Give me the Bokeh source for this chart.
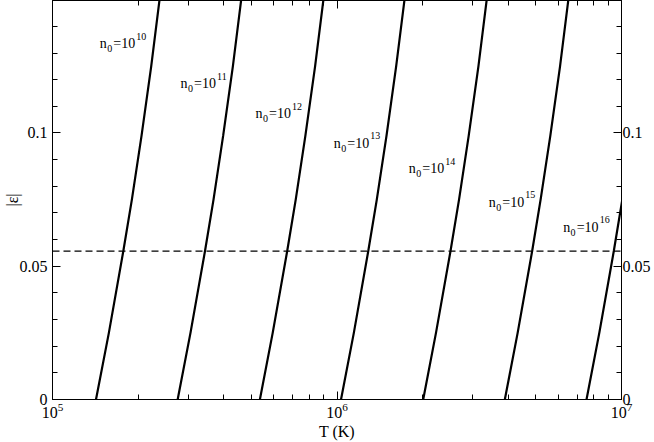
from bokeh.plotting import figure
from bokeh.models import (LogAxis, LinearAxis, FixedTicker, Range1d, Span,
                          ColumnDataSource, NumeralTickFormatter, CustomJSTickFormatter)
from bokeh.core.properties import value
from bokeh.embed import file_html
from bokeh.resources import INLINE

# ---------------- data ----------------
eps_grid = [0.0, 0.025, 0.0557, 0.075, 0.099, 0.125, 0.15]
T_n10 = [1.422e5, 1.578e5, 1.774e5, 1.901e5, 2.056e5, 2.223e5, 2.378e5]
T_n11 = [2.754e5, 3.055e5, 3.436e5, 3.681e5, 3.980e5, 4.305e5, 4.605e5]
T_n12 = [5.358e5, 5.943e5, 6.683e5, 7.160e5, 7.743e5, 8.375e5, 8.959e5]
T_n13 = [1.033e6, 1.146e6, 1.288e6, 1.380e6, 1.493e6, 1.614e6, 1.727e6]
T_n14 = [2.009e6, 2.228e6, 2.506e6, 2.685e6, 2.904e6, 3.141e6, 3.359e6]
T_n15 = [3.890e6, 4.315e6, 4.853e6, 5.196e6, 5.622e6, 6.081e6, 6.504e6]
T_n16 = [7.534e6, 8.356e6, 9.397e6, 1.0065e7, 1.0886e7]
eps_crit = 0.0557

label_exp = ["10", "11", "12", "13", "14", "15", "16"]
label_T = [1.4665e5, 2.8178e5, 5.1703e5, 9.744e5, 1.7877e6, 3.4163e6, 6.238e6]
label_eps = [0.1335, 0.1185, 0.1072, 0.0962, 0.0866, 0.0740, 0.0647]

x_major = [1e5, 1e6, 1e7]
x_minor = [2e5, 3e5, 4e5, 5e5, 6e5, 7e5, 8e5, 9e5,
           2e6, 3e6, 4e6, 5e6, 6e6, 7e6, 8e6, 9e6]
y_major = [0.0, 0.05, 0.1]
y_minor = [0.01, 0.02, 0.03, 0.04, 0.06, 0.07, 0.08, 0.09,
           0.11, 0.12, 0.13, 0.14]

FONT = "Liberation Serif"

p = figure(width=654, height=442, x_axis_type="log",
           x_range=Range1d(1e5, 1e7), y_range=Range1d(0, 0.1497),
           output_backend="svg", toolbar_location=None,
           min_border_left=52, min_border_right=33,
           min_border_top=0, min_border_bottom=43,
           styles={"position": "absolute", "top": "0px", "left": "0px"})
p.xgrid.visible = False
p.ygrid.visible = False
p.outline_line_color = "black"
p.background_fill_color = "white"
p.border_fill_color = "white"

xt = FixedTicker(ticks=x_major, minor_ticks=x_minor)
yt = FixedTicker(ticks=y_major, minor_ticks=y_minor)

top_axis = LogAxis(ticker=xt, formatter=CustomJSTickFormatter(code="return ''"))
p.add_layout(top_axis, "above")
p.add_layout(LinearAxis(ticker=yt), "right")

for ax in p.axis:
    ax.major_tick_in = 8
    ax.major_tick_out = 0
    ax.minor_tick_in = 5
    ax.minor_tick_out = 0
    ax.axis_line_color = "black"
    ax.major_tick_line_color = "black"
    ax.minor_tick_line_color = "black"
    ax.major_label_text_font = FONT
    ax.major_label_text_font_size = "16px"
    ax.major_label_text_color = "black"
    ax.axis_label_text_font = FONT
    ax.axis_label_text_font_size = "16px"
    ax.axis_label_text_font_style = "normal"
    ax.axis_label_text_color = "black"

p.below[0].ticker = xt
p.left[0].ticker = yt
p.left[0].formatter = NumeralTickFormatter(format="0.[00]")
p.right[0].formatter = NumeralTickFormatter(format="0.[00]")
p.left[0].major_label_standoff = 5
p.right[0].major_label_standoff = 1
p.below[0].major_label_standoff = 3

p.below[0].axis_label = "T (K)"
p.below[0].axis_label_standoff = 2
p.left[0].axis_label = "|\u03b5|"
p.left[0].axis_label_standoff = -4
top_axis.major_label_text_font_size = "1px"
top_axis.major_label_standoff = 0

for T in [T_n10, T_n11, T_n12, T_n13, T_n14, T_n15, T_n16]:
    p.line(T, eps_grid[:len(T)], line_color="black", line_width=2.2)

p.add_layout(Span(location=eps_crit, dimension="width", line_color="black",
                  line_width=1.3, line_dash="7 4"))

src = ColumnDataSource(dict(x=label_T, y=label_eps, exp=label_exp))
common = dict(x="x", y="y", source=src, text_font=value(FONT),
              text_color="black", text_baseline="alphabetic", text_align="left")
p.text(text=value("n"), text_font_size="14px", **common)
p.text(text=value("0"), text_font_size="10px", x_offset=7.4, y_offset=5, **common)
p.text(text=value("=10"), text_font_size="14px", x_offset=13.5, **common)
p.text(text="exp", text_font_size="10px", x_offset=36.5, y_offset=-7.5, **common)

open("out.html", "w").write(file_html(p, INLINE))
